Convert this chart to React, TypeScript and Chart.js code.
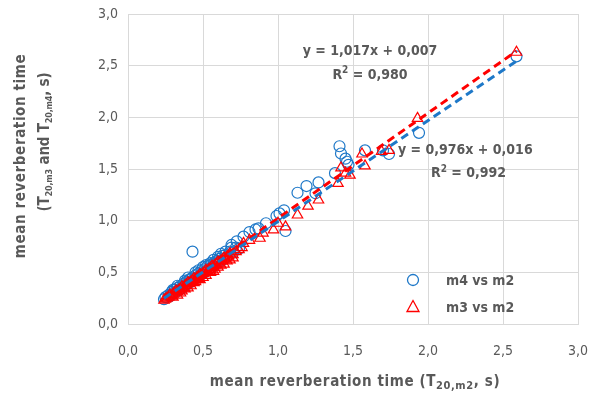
import React, { useEffect, useRef } from "react";
import { Chart, registerables } from "chart.js";

Chart.register(...registerables);

// m4 vs m2 : [x = T20,m2, y = T20,m4]
const m4X = [
  2.59, 1.94, 1.74, 1.70, 1.58, 1.41, 1.42, 1.45, 1.46, 1.47, 1.38, 1.27, 1.19, 1.13, 1.25,
  1.04, 0.99, 0.92, 0.85, 1.05, 0.43, 1.01, 0.87, 0.81, 0.77, 0.725, 0.69,
  0.24, 0.25, 0.27, 0.28, 0.29, 0.30, 0.31, 0.32, 0.33, 0.34, 0.35, 0.36, 0.37, 0.38, 0.39,
  0.40, 0.41, 0.42, 0.43, 0.44, 0.45, 0.46, 0.47, 0.48, 0.49, 0.50, 0.51, 0.52, 0.53, 0.54,
  0.55, 0.56, 0.57, 0.58, 0.59, 0.60, 0.61, 0.62, 0.63, 0.64, 0.65, 0.66, 0.68, 0.70, 0.72,
  0.74, 0.38, 0.45, 0.52, 0.60, 0.65, 0.35, 0.42, 0.55,
  0.30, 0.40, 0.47, 0.57, 0.62, 0.69, 0.33, 0.50,
];
const m4Y = [
  2.59, 1.85, 1.645, 1.68, 1.68, 1.72, 1.65, 1.60, 1.57, 1.54, 1.46, 1.37, 1.335, 1.27, 1.265,
  1.10, 1.045, 0.975, 0.915, 0.90, 0.70, 1.07, 0.925, 0.89, 0.845, 0.80, 0.765,
  0.24, 0.26, 0.28, 0.27, 0.31, 0.30, 0.33, 0.31, 0.35, 0.33, 0.37, 0.35, 0.39, 0.37, 0.41,
  0.39, 0.43, 0.41, 0.45, 0.43, 0.47, 0.45, 0.49, 0.47, 0.52, 0.49, 0.53, 0.51, 0.56, 0.53,
  0.57, 0.55, 0.59, 0.58, 0.61, 0.60, 0.63, 0.61, 0.66, 0.63, 0.67, 0.65, 0.70, 0.69, 0.74,
  0.73, 0.42, 0.50, 0.57, 0.65, 0.70, 0.34, 0.44, 0.59,
  0.33, 0.45, 0.52, 0.62, 0.68, 0.74, 0.37, 0.55,
];

// m3 vs m2 : [x = T20,m2, y = T20,m3]
const m3X = [
  2.59, 1.93, 1.69, 1.74, 1.56, 1.58, 1.42, 1.45, 1.48, 1.40, 1.27, 1.20, 1.13, 1.05, 1.00,
  0.97, 0.90, 0.88, 0.81, 0.77,
  0.24, 0.25, 0.26, 0.27, 0.28, 0.29, 0.30, 0.31, 0.32, 0.33, 0.34, 0.35, 0.36, 0.37, 0.38,
  0.39, 0.40, 0.41, 0.42, 0.43, 0.44, 0.45, 0.46, 0.47, 0.48, 0.49, 0.50, 0.51, 0.52, 0.53,
  0.54, 0.55, 0.56, 0.57, 0.58, 0.59, 0.60, 0.61, 0.62, 0.63, 0.64, 0.65, 0.66, 0.67, 0.68,
  0.70, 0.72, 0.74, 0.76, 0.33, 0.40, 0.48, 0.55, 0.62, 0.44, 0.52, 0.36, 0.58, 0.66, 0.70,
  0.35, 0.42, 0.50, 0.57, 0.64, 0.45, 0.30, 0.38, 0.60, 0.68, 0.55, 0.47,
];
const m3Y = [
  2.63, 1.99, 1.67, 1.68, 1.645, 1.53, 1.51, 1.46, 1.44, 1.36, 1.20, 1.14, 1.055, 0.94, 0.975,
  0.91, 0.88, 0.83, 0.81, 0.78,
  0.23, 0.24, 0.25, 0.26, 0.28, 0.27, 0.29, 0.30, 0.32, 0.31, 0.33, 0.34, 0.36, 0.35, 0.37,
  0.38, 0.40, 0.39, 0.41, 0.42, 0.44, 0.43, 0.45, 0.46, 0.48, 0.47, 0.49, 0.50, 0.52, 0.51,
  0.53, 0.54, 0.56, 0.55, 0.57, 0.58, 0.60, 0.59, 0.61, 0.62, 0.64, 0.63, 0.65, 0.66, 0.68,
  0.67, 0.70, 0.72, 0.74, 0.28, 0.35, 0.43, 0.50, 0.57, 0.40, 0.47, 0.32, 0.53, 0.61, 0.64,
  0.30, 0.37, 0.45, 0.51, 0.58, 0.41, 0.26, 0.34, 0.55, 0.62, 0.52, 0.44,
];

// linear trend lines
const m4Slope = 0.976;
const m4Intercept = 0.016;
const m3Slope = 1.017;
const m3Intercept = 0.007;
const m4Equation = ["y = 0,976x + 0,016", "0,992"];
const m3Equation = ["y = 1,017x + 0,007", "0,980"];

const axisTicks = [0, 0.5, 1, 1.5, 2, 2.5, 3];
const seriesNames = ["m4 vs m2", "m3 vs m2"];

const BLUE = "#1E78C8";
const RED = "#FF0000";
const TEXT = "#595959";
const GRID = "#D9D9D9";
const FONT = '"DejaVu Sans Condensed", "DejaVu Sans", sans-serif';

type Seg = { t: string; sub?: boolean; sup?: boolean };

function drawRich(
  ctx: CanvasRenderingContext2D,
  segs: Seg[],
  x: number,
  y: number,
  size: number,
  align: "left" | "center",
  spacing = 0,
  subScale = 0.7
) {
  (ctx as any).letterSpacing = spacing + "px";
  const main = `bold ${size}px ${FONT}`;
  const small = `bold ${Math.round(size * subScale)}px ${FONT}`;
  let w = 0;
  for (const s of segs) {
    ctx.font = s.sub || s.sup ? small : main;
    w += ctx.measureText(s.t).width;
  }
  let cx = align === "center" ? x - w / 2 : x;
  ctx.textAlign = "left";
  ctx.textBaseline = "middle";
  for (const s of segs) {
    ctx.font = s.sub || s.sup ? small : main;
    const dy = s.sub ? size * 0.3 : s.sup ? -size * 0.3 : 0;
    ctx.fillText(s.t, cx, y + dy);
    cx += ctx.measureText(s.t).width;
  }
}

function minMax(a: number[]) {
  return [Math.min(...a), Math.max(...a)];
}

const overlayPlugin = {
  id: "overlay",
  afterDraw(chart: any) {
    const ctx: CanvasRenderingContext2D = chart.ctx;
    const xs = chart.scales.x;
    const ys = chart.scales.y;
    const area = chart.chartArea;
    ctx.save();
    ctx.fillStyle = TEXT;
    // equations
    drawRich(ctx, [{ t: m3Equation[0] }], xs.getPixelForValue(1.613), ys.getPixelForValue(2.635), 14, "center");
    drawRich(ctx, [{ t: "R" }, { t: "2", sup: true }, { t: " = " + m3Equation[1] }], xs.getPixelForValue(1.613), ys.getPixelForValue(2.41), 14, "center");
    drawRich(ctx, [{ t: m4Equation[0] }], xs.getPixelForValue(1.8), ys.getPixelForValue(1.68), 14, "left");
    drawRich(ctx, [{ t: "R" }, { t: "2", sup: true }, { t: " = " + m4Equation[1] }], xs.getPixelForValue(2.27), ys.getPixelForValue(1.46), 14, "center");

    // axis titles
    const cxm = (area.left + area.right) / 2 + 2;
    drawRich(ctx, [{ t: "mean reverberation time (T" }, { t: "20,m2", sub: true }, { t: ", s)" }], cxm, 382, 15, "center", 0.6);
    ctx.save();
    ctx.translate(21, 156);
    ctx.rotate(-Math.PI / 2);
    drawRich(ctx, [{ t: "mean reverberation time" }], 0, 0, 15, "center", 0.6);
    ctx.restore();
    ctx.save();
    ctx.translate(45, 142);
    ctx.rotate(-Math.PI / 2);
    drawRich(ctx, [{ t: "(T" }, { t: "20,m3", sub: true }, { t: " and T" }, { t: "20,m4", sub: true }, { t: ", s)" }], 0, 0, 15, "center", -0.2, 0.62);
    ctx.restore();

    // legend
    const lx = 413;
    const ly1 = 280;
    const ly2 = 307;
    ctx.lineWidth = 1.3;
    ctx.strokeStyle = BLUE;
    ctx.beginPath();
    ctx.arc(lx, ly1, 5.5, 0, Math.PI * 2);
    ctx.stroke();
    ctx.strokeStyle = RED;
    ctx.beginPath();
    ctx.moveTo(lx, ly2 - 6.5);
    ctx.lineTo(lx + 6, ly2 + 4.5);
    ctx.lineTo(lx - 6, ly2 + 4.5);
    ctx.closePath();
    ctx.stroke();
    ctx.fillStyle = TEXT;
    drawRich(ctx, [{ t: seriesNames[0] }], 446, ly1 + 1, 14, "left");
    drawRich(ctx, [{ t: seriesNames[1] }], 446, ly2 + 1, 14, "left");
    ctx.restore();
  },
};

export default function App() {
  const ref = useRef<HTMLCanvasElement | null>(null);
  useEffect(() => {
    document.body.style.margin = "0";
    const canvas = ref.current;
    if (!canvas) return;
    const [m4Min, m4Max] = minMax(m4X);
    const [m3Min, m3Max] = minMax(m3X);
    const chart = new Chart(canvas, {
      type: "scatter",
      data: {
        datasets: [
          {
            label: "m4 trend",
            type: "line",
            data: [
              { x: m4Min, y: m4Slope * m4Min + m4Intercept },
              { x: m4Max, y: m4Slope * m4Max + m4Intercept },
            ],
            borderColor: BLUE,
            borderWidth: 3,
            borderDash: [8, 5],
            pointRadius: 0,
            fill: false,
            order: 0,
          } as any,
          {
            label: "m3 trend",
            type: "line",
            data: [
              { x: m3Min, y: m3Slope * m3Min + m3Intercept },
              { x: m3Max, y: m3Slope * m3Max + m3Intercept },
            ],
            borderColor: RED,
            borderWidth: 3,
            borderDash: [8, 5],
            pointRadius: 0,
            fill: false,
            order: 1,
          } as any,
          {
            label: seriesNames[1],
            data: m3X.map((x, i) => ({ x, y: m3Y[i] })),
            pointStyle: "triangle",
            pointRadius: 6,
            borderColor: RED,
            backgroundColor: "rgba(0,0,0,0)",
            borderWidth: 1.2,
            order: 2,
          },
          {
            label: seriesNames[0],
            data: m4X.map((x, i) => ({ x, y: m4Y[i] })),
            pointStyle: "circle",
            pointRadius: 5.5,
            borderColor: BLUE,
            backgroundColor: "rgba(0,0,0,0)",
            borderWidth: 1.2,
            order: 3,
          },
        ],
      },
      options: {
        animation: false,
        responsive: false,
        layout: { padding: { left: 78, right: 19, top: 14, bottom: 12 } },
        plugins: { legend: { display: false }, tooltip: { enabled: false } },
        scales: {
          x: {
            type: "linear",
            min: axisTicks[0],
            max: axisTicks[axisTicks.length - 1],
            afterBuildTicks: (s: any) => {
              s.ticks = axisTicks.map((v) => ({ value: v }));
            },
            afterFit: (s: any) => {
              s.height = 60;
              s.paddingLeft = 0;
              s.paddingRight = 0;
            },
            grid: { color: GRID, lineWidth: 1, drawTicks: false },
            border: { color: GRID, width: 1 },
            ticks: {
              color: TEXT,
              padding: 19,
              font: { family: FONT, size: 14 },
              callback: (v: any) => Number(v).toFixed(1).replace(".", ","),
            },
          },
          y: {
            type: "linear",
            min: axisTicks[0],
            max: axisTicks[axisTicks.length - 1],
            afterBuildTicks: (s: any) => {
              s.ticks = axisTicks.map((v) => ({ value: v }));
            },
            afterFit: (s: any) => {
              s.width = 50;
              s.paddingTop = 0;
              s.paddingBottom = 0;
            },
            grid: { color: GRID, lineWidth: 1, drawTicks: false },
            border: { color: GRID, width: 1 },
            ticks: {
              color: TEXT,
              padding: 10,
              font: { family: FONT, size: 14 },
              callback: (v: any) => Number(v).toFixed(1).replace(".", ","),
            },
          },
        },
      },
      plugins: [overlayPlugin],
    });
    return () => chart.destroy();
  }, []);
  return <canvas ref={ref} width={597} height={396} style={{ display: "block" }} />;
}
